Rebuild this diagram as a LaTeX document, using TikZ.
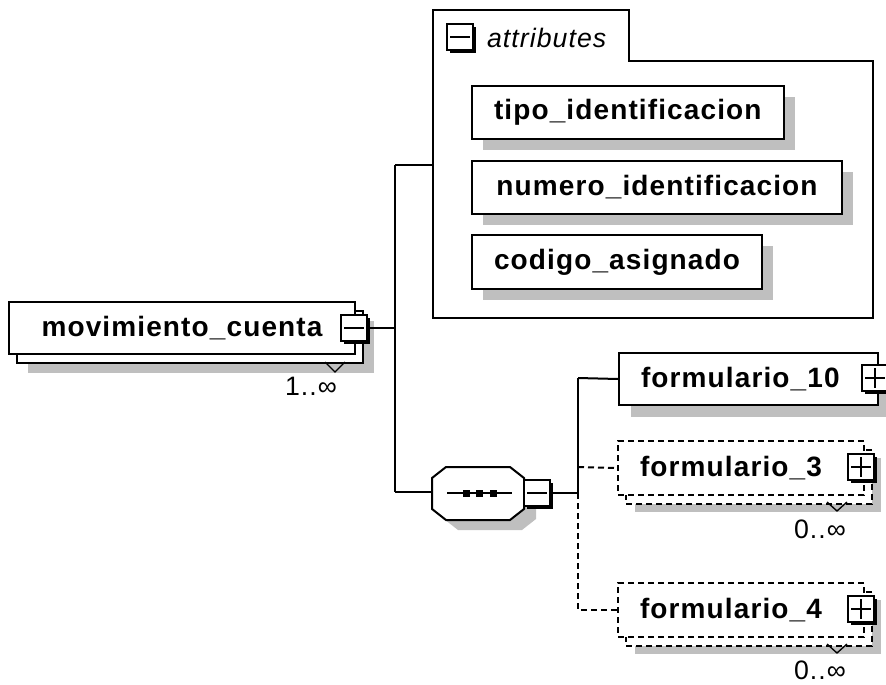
\documentclass[tikz,border=0pt]{standalone}
\usepackage{fontspec}
\setmainfont{Liberation Sans}
\newfontfamily\xsdfont[LetterSpace=4]{Liberation Sans}
\usetikzlibrary{shadows}
\newcommand{\px}{0.75pt}
\tikzset{
  elem/.style={draw, fill=white, line width=1.5pt, inner ysep=0pt, inner xsep=16.5pt,
    font=\xsdfont\fontsize{21}{25}\selectfont\bfseries},
  shade/.style={general shadow={fill=black!25, shadow xshift=#1, shadow yshift=-#1}},
  twin/.style={copy shadow={draw=black, fill=white, line width=1.5pt,
    shadow xshift=6pt, shadow yshift=-6.5pt, #1}},
  btn/.style={draw, fill=white, line width=1.5pt, minimum size=19.5pt, inner sep=0pt,
    general shadow={fill=black, shadow xshift=2.25pt, shadow yshift=-2.25pt}},
  card/.style={font=\xsdfont\fontsize{20}{24}\selectfont, inner sep=0pt},
  opt/.style={dash pattern=on 4.5pt off 3pt},
}
\begin{document}
\begin{tikzpicture}[x=0.75pt,y=-0.75pt,line width=1.5pt]
\useasboundingbox (0,0) rectangle (886,685);
% junction points
\coordinate (j1) at (395,328);
\coordinate (ja) at (395,165);
\coordinate (js) at (395,492);
\coordinate (jc) at (578,493);
\coordinate (jf) at (578,378);
\draw (ja) -- (js);
\draw (ja) -- (433,165);
\draw (js) -- (433,492);
% root element
\node[elem, shade=14.25pt, twin, minimum width=346*\px, minimum height=52*\px] (mc) at (182,328) {movimiento\_cuenta};
\draw[line width=1pt] (325,362) -- (335,372) -- (345,362);
\node[btn] (bm) at (354,328) {};
\draw ([xshift=3pt]bm.west) -- ([xshift=-3pt]bm.east);
\draw (bm.east) -- (j1);
\node[card] (mcm) at (311,386) {1..∞};
% attributes
\draw[fill=white] (433,10) -- (629,10) -- (629,61) -- (873,61) -- (873,318) -- (433,318) -- cycle;
\node[btn] (ba) at (460,37) {};
\draw ([xshift=3pt]ba.west) -- ([xshift=-3pt]ba.east);
\node[anchor=west, inner sep=0pt, font=\xsdfont\fontsize{20}{24}\selectfont\itshape] (at) at (486,38) {attributes};
\node[elem, shade=8.25pt, anchor=north west, minimum width=311*\px, minimum height=53*\px] (t1) at (471,85) {tipo\_identificacion};
\node[elem, shade=8.25pt, anchor=north west, minimum width=370*\px, minimum height=53*\px] (t2) at (471,160) {numero\_identificacion};
\node[elem, shade=8.25pt, anchor=north west, minimum width=290*\px, minimum height=54*\px] (t3) at (471,234) {codigo\_asignado};
% sequence
\fill[black!25] (444,488) -- (458,477) -- (522,477) -- (536,488) -- (536,519) -- (522,530) -- (458,530) -- (444,519) -- cycle;
\draw[fill=white] (432,478) -- (446,467) -- (510,467) -- (524,478) -- (524,509) -- (510,520) -- (446,520) -- (432,509) -- cycle;
\draw (447,493) -- (512,493);
\foreach \d in {466,479,493}
  \fill (\d-3.5,489.5) rectangle (\d+3.5,496.5);
\node[btn] (bs) at (537,493) {};
\draw ([xshift=3pt]bs.west) -- ([xshift=-3pt]bs.east);
\draw (bs.east) -- (jc);
% children
\draw (jf) -- (jc);
\node[elem, shade=9pt, anchor=north west, text width=161.25pt, align=left, minimum height=52*\px] (f10) at (618,352) {formulario\_10};
\draw (jf) -- (f10.west);
\node[btn] (b10) at (875,378) {};
\draw ([xshift=3pt]b10.west) -- ([xshift=-3pt]b10.east);
\draw ([yshift=-3pt]b10.north) -- ([yshift=3pt]b10.south);
\node[elem, opt, shade=13pt, twin={opt}, anchor=north west, text width=151.5pt, align=left, minimum height=54*\px] (f3) at (617,440) {formulario\_3};
\draw[opt] (578,467) -- (f3.west);
\draw[line width=1pt] (827,502) -- (837,511) -- (847,502);
\node[btn] (b3) at (861,467) {};
\draw ([xshift=3pt]b3.west) -- ([xshift=-3pt]b3.east);
\draw ([yshift=-3pt]b3.north) -- ([yshift=3pt]b3.south);
\node[card] (f3m) at (820,529) {0..∞};
\node[elem, opt, shade=13pt, twin={opt}, anchor=north west, text width=151.5pt, align=left, minimum height=54*\px] (f4) at (617,582) {formulario\_4};
\draw[opt] (jc) |- (f4.west);
\draw[line width=1pt] (827,644) -- (837,653) -- (847,644);
\node[btn] (b4) at (861,609) {};
\draw ([xshift=3pt]b4.west) -- ([xshift=-3pt]b4.east);
\draw ([yshift=-3pt]b4.north) -- ([yshift=3pt]b4.south);
\node[card] (f4m) at (820,670) {0..∞};
\end{tikzpicture}
\end{document}
